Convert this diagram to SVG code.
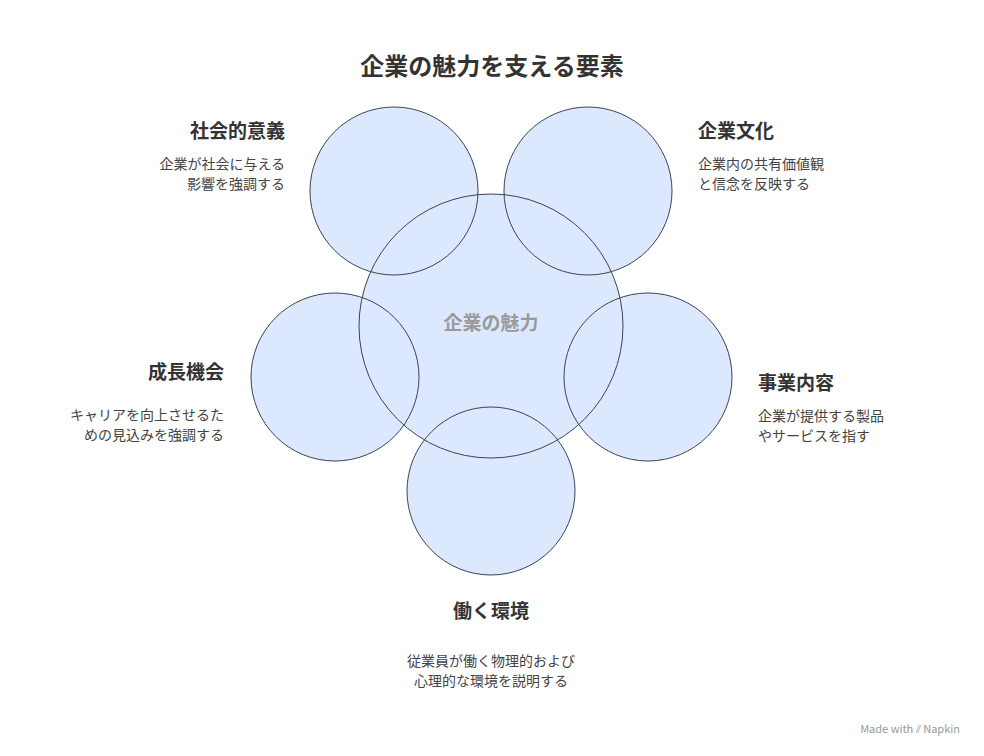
<svg xmlns="http://www.w3.org/2000/svg" width="984" height="756" viewBox="0 0 984 756">
<style>
.f{fill:#dce8fd;stroke:none}
.s{fill:none;stroke:#3d4350;stroke-width:1}
text{font-family:"Noto Sans CJK JP","Noto Sans",sans-serif;fill:#333}
.h{font-size:19px;font-weight:bold}
.d{font-size:14px;fill:#444}
.r{text-anchor:end}
.c{text-anchor:middle}
</style>
<rect width="984" height="756" fill="#fff"/>
<text class="c" x="492" y="75" style="font-size:24px;font-weight:bold">企業の魅力を支える要素</text>
<g id="fills">
<circle class="f" cx="394" cy="191" r="84"/>
<circle class="f" cx="588" cy="191" r="84"/>
<circle class="f" cx="335" cy="377" r="84"/>
<circle class="f" cx="648" cy="377" r="84"/>
<circle class="f" cx="491" cy="491" r="84"/>
<circle class="f" cx="491" cy="326" r="132"/>
</g>
<g id="center"><circle class="s" cx="491" cy="326" r="132"/><text class="c" x="491" y="330" style="font-size:19px;font-weight:bold;fill:#9a9a9a">企業の魅力</text></g>
<g id="n1"><circle class="s" cx="394" cy="191" r="84"/><text class="h r" x="285" y="138">社会的意義</text><text class="d r" x="285" y="169">企業が社会に与える</text><text class="d r" x="285" y="189">影響を強調する</text></g>
<g id="n2"><circle class="s" cx="588" cy="191" r="84"/><text class="h" x="698" y="138">企業文化</text><text class="d" x="698" y="169">企業内の共有価値観</text><text class="d" x="698" y="189">と信念を反映する</text></g>
<g id="n3"><circle class="s" cx="335" cy="377" r="84"/><text class="h r" x="224" y="379">成長機会</text><text class="d r" x="224" y="420">キャリアを向上させるた</text><text class="d r" x="224" y="440">めの見込みを強調する</text></g>
<g id="n4"><circle class="s" cx="648" cy="377" r="84"/><text class="h" x="758" y="390">事業内容</text><text class="d" x="758" y="421">企業が提供する製品</text><text class="d" x="758" y="441">やサービスを指す</text></g>
<g id="n5"><circle class="s" cx="491" cy="491" r="84"/><text class="h c" x="491" y="618">働く環境</text><text class="d c" x="491" y="666">従業員が働く物理的および</text><text class="d c" x="491" y="686">心理的な環境を説明する</text></g>
<g id="connectors"></g>
<text x="960" y="733" text-anchor="end" style="font-size:11px;fill:#999">Made with ⫽ Napkin</text>
</svg>
